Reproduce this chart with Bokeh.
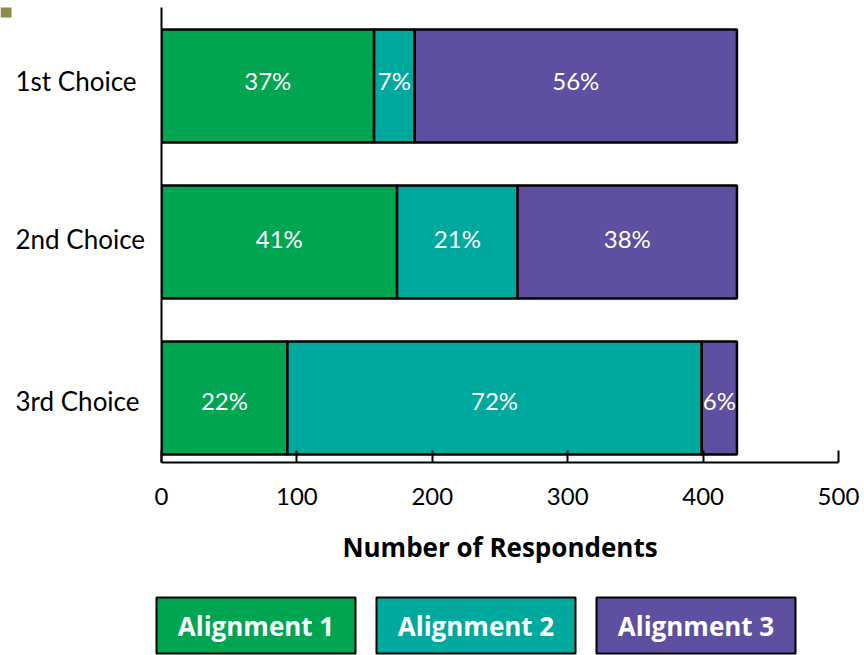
from bokeh.plotting import figure
from bokeh.models import ColumnDataSource, Range1d, LabelSet, BoxAnnotation
from bokeh.layouts import column, row
from bokeh.embed import file_html
from bokeh.resources import INLINE
from bokeh.core.properties import value

categories = ["1st Choice", "2nd Choice", "3rd Choice"]
series = ["Alignment 1", "Alignment 2", "Alignment 3"]
alignment_1 = [157, 174, 93]
alignment_2 = [30, 89, 306]
alignment_3 = [238, 162, 26]
x_ticks = [0, 100, 200, 300, 400, 500]
colors = ["#00A551", "#00A99E", "#5E4FA0"]

# style: per-row text nudge in pixels (up positive)
text_nudge = [5, 3, -3]

FONT = "Lato"
BOLD_FONT = "Open Sans"
n = len(categories)
ypos = [n - 1 - i for i in range(n)]
values = [alignment_1, alignment_2, alignment_3]
totals = [sum(v[i] for v in values) for i in range(n)]

Y0, Y1 = -0.414, 2.503
H, TOP, BOTTOM = 583, 7, 121
y_range = Range1d(Y0, Y1)

# ---- category label column ----
lab = figure(width=150, height=H, output_backend="svg", toolbar_location=None,
             x_range=Range1d(0, 150), y_range=y_range,
             min_border_left=0, min_border_right=0, min_border_top=TOP, min_border_bottom=BOTTOM)
lab.axis.visible = False
lab.grid.visible = False
lab.outline_line_color = None
cat_src = ColumnDataSource(dict(x=[15] * n, y=ypos, name=categories, dy=text_nudge))
lab.add_layout(LabelSet(x="x", y="y", text="name", source=cat_src, y_offset="dy",
                        text_color="black", text_font=value(FONT), text_font_size="26px",
                        text_align="left", text_baseline="middle"))
try:
    lab.add_layout(BoxAnnotation(left=0, right=11, top=0, bottom=17,
                                 left_units="canvas", right_units="canvas",
                                 top_units="canvas", bottom_units="canvas",
                                 fill_color="#8C8B4B", fill_alpha=1.0, line_color=None))
except Exception:
    pass

# ---- main chart ----
p = figure(width=714, height=H, output_backend="svg", toolbar_location=None,
           x_range=Range1d(0, 500), y_range=y_range,
           min_border_left=11, min_border_right=26, min_border_top=TOP, min_border_bottom=BOTTOM)
p.outline_line_color = None
p.grid.visible = False

left = [0] * n
for s, vals, c in zip(series, values, colors):
    right = [l + v for l, v in zip(left, vals)]
    src = ColumnDataSource(dict(
        y=ypos, left=left, right=right, dy=text_nudge,
        mid=[(l + r) / 2 for l, r in zip(left, right)],
        txt=["%d%%" % round(100 * v / t) for v, t in zip(vals, totals)]))
    p.hbar(y="y", left="left", right="right", height=0.724, source=src,
           fill_color=c, line_color="black", line_width=2.5)
    p.add_layout(LabelSet(x="mid", y="y", text="txt", source=src, y_offset="dy",
                          text_color="white", text_font=value(FONT), text_font_size="24px",
                          text_align="center", text_baseline="middle"))
    left = right

xa = p.xaxis[0]
xa.ticker = x_ticks
xa.major_tick_in = 12
xa.major_tick_out = 0
xa.minor_tick_line_color = None
xa.axis_line_width = 2
xa.major_tick_line_width = 2
xa.major_label_text_font = FONT
xa.major_label_text_font_size = "24px"
xa.major_label_text_color = "black"
xa.major_label_standoff = 25
xa.axis_label = "Number of Respondents"
xa.axis_label_text_font = BOLD_FONT
xa.axis_label_text_font_size = "26px"
xa.axis_label_text_font_style = "bold"
xa.axis_label_text_color = "black"
xa.axis_label_standoff = 21

ya = p.yaxis[0]
ya.ticker = []
ya.major_tick_in = 0
ya.major_tick_out = 0
ya.major_label_standoff = 0
ya.minor_tick_line_color = None
ya.major_label_text_font_size = "0px"
ya.axis_line_width = 2

# ---- legend boxes ----
leg = figure(width=864, height=72, output_backend="svg", toolbar_location=None,
             x_range=Range1d(0, 864), y_range=Range1d(72, 0),
             min_border=0, min_border_left=0, min_border_right=0, min_border_top=0, min_border_bottom=0)
leg.axis.visible = False
leg.grid.visible = False
leg.outline_line_color = None
lsrc = ColumnDataSource(dict(x=[255.5 + 220 * i for i in range(len(series))],
                             y=[42] * len(series), name=series, color=colors))
leg.rect(x="x", y="y", width=199, height=56, source=lsrc, fill_color="color",
         line_color="black", line_width=2)
leg.text(x="x", y="y", text="name", source=lsrc, text_color="white",
         text_font=value(BOLD_FONT), text_font_size="26px", text_font_style="bold",
         text_align="center", text_baseline="middle")

layout = column(row(lab, p, spacing=0), row(leg), spacing=0)
open("out.html", "w").write(file_html(layout, INLINE))
